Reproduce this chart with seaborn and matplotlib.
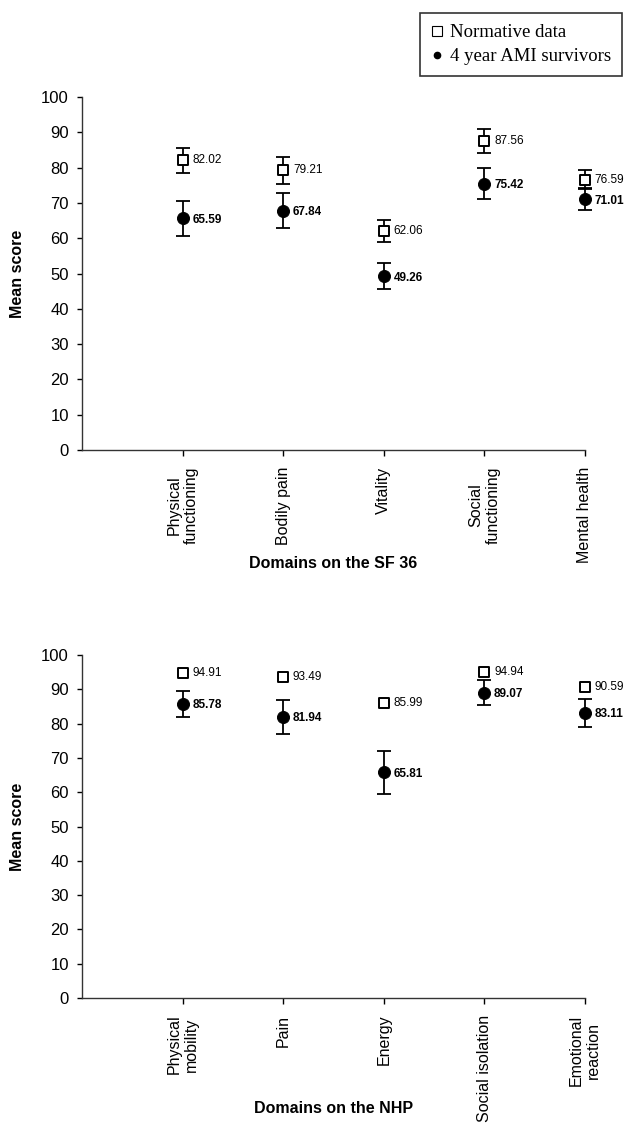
import numpy as np
import matplotlib.pyplot as plt
from matplotlib.lines import Line2D
import seaborn as sns

# SF 36 domains
sf36_domains = ['Physical\nfunctioning', 'Bodily pain', 'Vitality',
                'Social\nfunctioning', 'Mental health']
sf36_norm = [82.02, 79.21, 62.06, 87.56, 76.59]
sf36_norm_err = [3.5, 3.8, 3.2, 3.5, 2.7]
sf36_ami = [65.59, 67.84, 49.26, 75.42, 71.01]
sf36_ami_err = [5.0, 4.9, 3.7, 4.4, 3.1]

# NHP domains
nhp_domains = ['Physical\nmobility', 'Pain', 'Energy',
               'Social isolation', 'Emotional\nreaction']
nhp_norm = [94.91, 93.49, 85.99, 94.94, 90.59]
nhp_ami = [85.78, 81.94, 65.81, 89.07, 83.11]
nhp_ami_err = [3.7, 5.0, 6.3, 3.7, 4.1]

yticks = list(range(0, 101, 10))

sns.set_style('ticks')
plt.rcParams['font.family'] = ['Liberation Sans', 'DejaVu Sans']
plt.rcParams['text.color'] = 'black'
plt.rcParams['axes.labelcolor'] = 'black'
plt.rcParams['xtick.color'] = 'black'
plt.rcParams['ytick.color'] = 'black'


def draw_errors(ax, x, y, err):
    eb = ax.errorbar(x, y, yerr=err, fmt='none', ecolor='black',
                     elinewidth=1.3, capsize=5, capthick=1.3, zorder=2)
    for art in list(eb.lines[1]) + list(eb.lines[2]):
        art.set_clip_on(False)


def draw_panel(ax, domains, norm, norm_err, ami, ami_err, xlabel):
    x = np.arange(1, len(domains) + 1)
    if norm_err is not None:
        draw_errors(ax, x, norm, norm_err)
    draw_errors(ax, x, ami, ami_err)
    sns.scatterplot(x=x, y=norm, marker='s', s=48, facecolor='white',
                    edgecolor='black', linewidth=1.4, ax=ax, zorder=3,
                    clip_on=False)
    sns.scatterplot(x=x, y=ami, marker='o', s=75, color='black',
                    edgecolor='black', ax=ax, zorder=3, clip_on=False)
    for xi, v in zip(x, norm):
        ax.annotate(f'{v:.2f}', (xi, v), xytext=(7, 0),
                    textcoords='offset points', ha='left', va='center',
                    fontsize=8.5, annotation_clip=False)
    for xi, v in zip(x, ami):
        ax.annotate(f'{v:.2f}', (xi, v), xytext=(7, -1),
                    textcoords='offset points', ha='left', va='center',
                    fontsize=8.5, fontweight='bold', annotation_clip=False)

    ax.set_xlim(0, len(domains))
    ax.set_ylim(0, 100)
    ax.set_yticks(yticks)
    ax.set_xticks(x)
    ax.set_xticklabels(domains, rotation=90, fontsize=11.5)
    ax.tick_params(axis='y', labelsize=12, length=3.5, width=1, pad=6)
    ax.tick_params(axis='x', length=4, width=1, pad=8)
    for side in ['left', 'bottom']:
        ax.spines[side].set_color('#333333')
        ax.spines[side].set_linewidth(1)
    sns.despine(ax=ax)
    ax.set_ylabel('Mean score', fontsize=11.5, fontweight='bold')
    ax.yaxis.set_label_coords(-0.113, 0.5)
    ax.set_xlabel(xlabel, fontsize=11.5, fontweight='bold')
    ax.xaxis.set_label_coords(0.5, -0.30)


fig = plt.figure(figsize=(6.24, 11.29), dpi=100)
ax1 = fig.add_axes([0.1314, 0.6014, 0.806, 0.3127])
ax2 = fig.add_axes([0.1314, 0.1160, 0.806, 0.3038])

draw_panel(ax1, sf36_domains, sf36_norm, sf36_norm_err, sf36_ami,
           sf36_ami_err, 'Domains on the SF 36')
draw_panel(ax2, nhp_domains, nhp_norm, None, nhp_ami, nhp_ami_err,
           'Domains on the NHP')

handles = [Line2D([], [], marker='s', ls='none', mfc='white', mec='black',
                  ms=7, mew=0.8),
           Line2D([], [], marker='o', ls='none', color='black', ms=4.5)]
leg = fig.legend(handles, ['Normative data', '4 year AMI survivors'],
                 loc='upper right', bbox_to_anchor=(622 / 624, 1 - 13 / 1129),
                 prop={'family': 'Liberation Serif', 'size': 13.5},
                 frameon=True, fancybox=False, edgecolor='black',
                 borderpad=0.6, labelspacing=0.35, handlelength=0.6,
                 handletextpad=0.4, borderaxespad=0)
leg.get_frame().set_linewidth(1.2)

fig.savefig('out.png', dpi=100)
